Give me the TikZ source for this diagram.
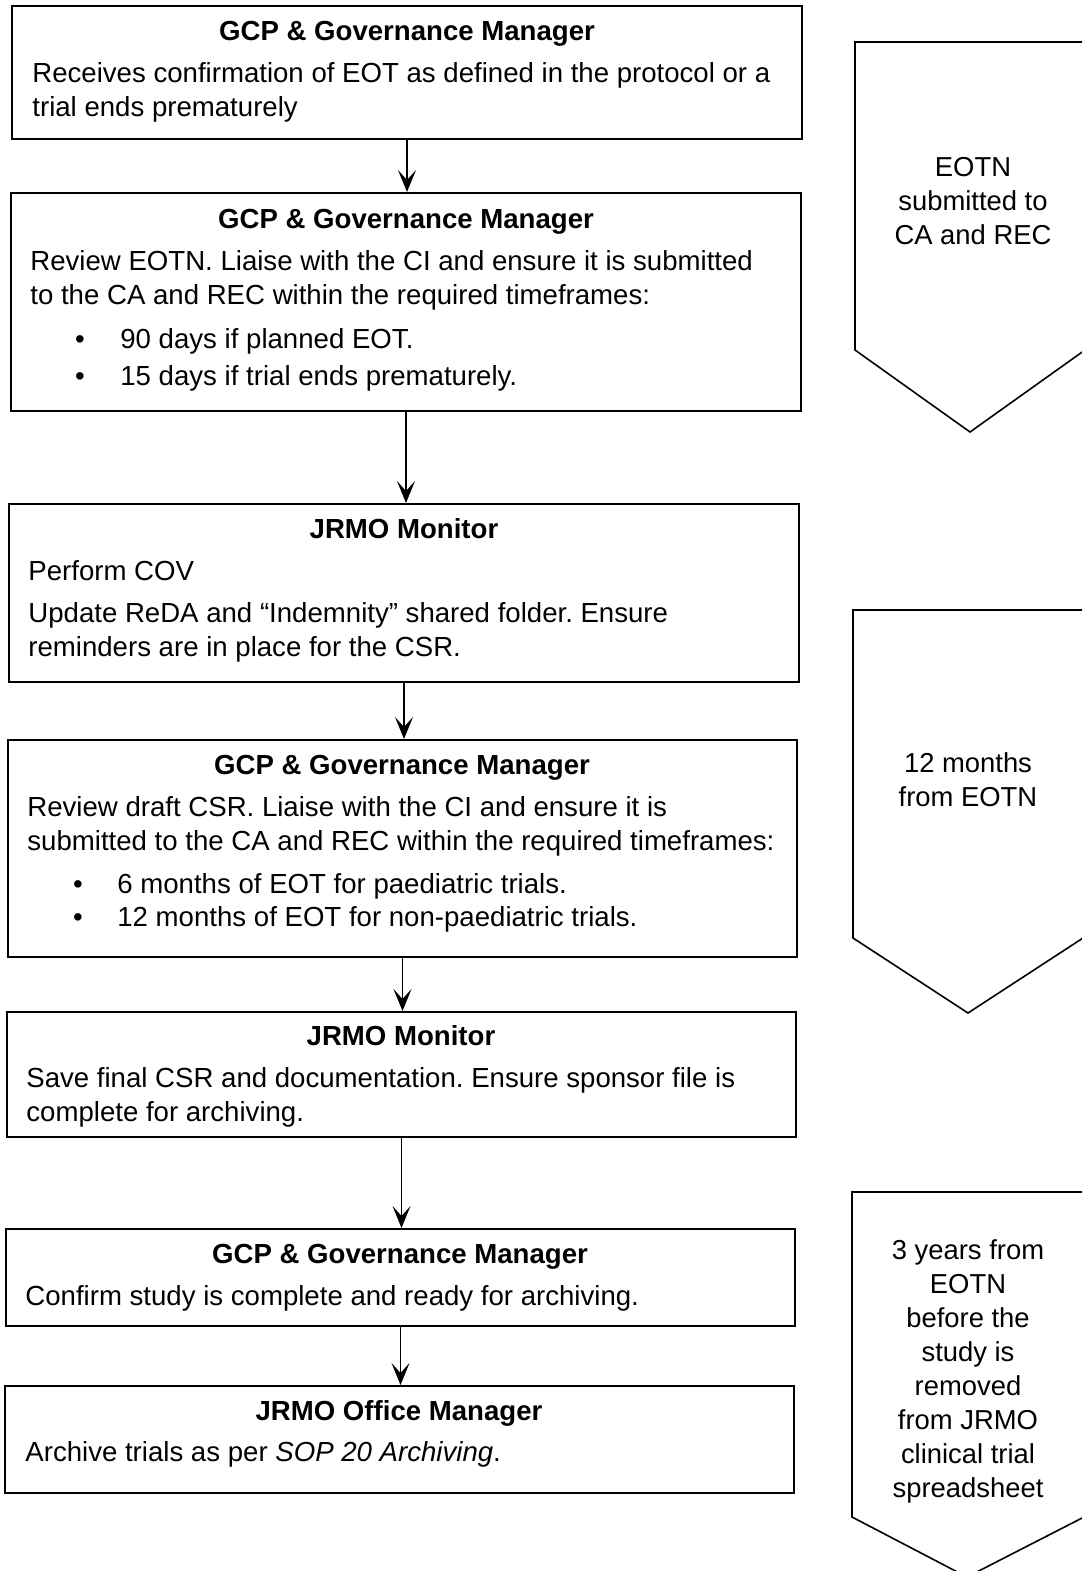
\documentclass[tikz,border=0pt]{standalone}
\usepackage{fontspec}
\setmainfont{Liberation Sans}
\usetikzlibrary{arrows.meta,fit}
\frenchspacing
\begin{document}
\begin{tikzpicture}[x=0.5pt,y=-0.5pt,
  box/.style={draw, line width=1pt, inner sep=0pt},
  hd/.style={font=\fontsize{13.8pt}{17pt}\selectfont\bfseries, anchor=base, inner sep=0pt},
  txt/.style={font=\fontsize{13.8pt}{17pt}\selectfont, anchor=base west, inner sep=0pt},
  bul/.style={font=\fontsize{13.8pt}{17pt}\selectfont, anchor=base, inner sep=0pt},
  arr/.style={line width=0.8pt, -{Stealth[length=11pt,width=9pt,inset=5pt]}},
  chev/.style={draw, line width=0.8pt},
  ctxt/.style={font=\fontsize{13.7pt}{17pt}\selectfont, align=center, inner sep=0pt}]
\useasboundingbox (0,0) rectangle (1082,1571);
\fill[white] (0,0) rectangle (1082,1571);

% boxes
\node[box, fit={(12,6) (802,139)}] (b1) {};
\node[box, fit={(11,193) (801,411)}] (b2) {};
\node[box, fit={(9,504) (799,682)}] (b3) {};
\node[box, fit={(8,740) (797,957)}] (b4) {};
\node[box, fit={(7,1012) (796,1137)}] (b5) {};
\node[box, fit={(6,1229) (795,1326)}] (b6) {};
\node[box, fit={(5,1386) (794,1493)}] (b7) {};

% box 1
\node[hd] (h1) at (407,40) {GCP \& Governance Manager};
\node[txt] (t1a) at (32,82) {Receives confirmation of EOT as defined in the protocol or a};
\node[txt] (t1b) at (32,116) {trial ends prematurely};

% box 2
\node[hd] (h2) at (406,228) {GCP \& Governance Manager};
\node[txt] (t2a) at (30,270) {Review EOTN. Liaise with the CI and ensure it is submitted};
\node[txt] (t2b) at (30,304) {to the CA and REC within the required timeframes:};
\node[bul] (p2a) at (80,348) {•};
\node[txt] (t2c) at (120,348) {90 days if planned EOT.};
\node[bul] (p2b) at (80,385) {•};
\node[txt] (t2d) at (120,385) {15 days if trial ends prematurely.};

% box 3
\node[hd] (h3) at (404,538) {JRMO Monitor};
\node[txt] (t3a) at (28,580) {Perform COV};
\node[txt] (t3b) at (28,622) {Update ReDA and “Indemnity” shared folder. Ensure};
\node[txt] (t3c) at (28,656) {reminders are in place for the CSR.};

% box 4
\node[hd] (h4) at (402,774) {GCP \& Governance Manager};
\node[txt] (t4a) at (27,816) {Review draft CSR. Liaise with the CI and ensure it is};
\node[txt] (t4b) at (27,850) {submitted to the CA and REC within the required timeframes:};
\node[bul] (p4a) at (78,893) {•};
\node[txt] (t4c) at (117,893) {6 months of EOT for paediatric trials.};
\node[bul] (p4b) at (78,926) {•};
\node[txt] (t4d) at (117,926) {12 months of EOT for non-paediatric trials.};

% box 5
\node[hd] (h5) at (401,1045) {JRMO Monitor};
\node[txt] (t5a) at (26,1087) {Save final CSR and documentation. Ensure sponsor file is};
\node[txt] (t5b) at (26,1121) {complete for archiving.};

% box 6
\node[hd] (h6) at (400,1263) {GCP \& Governance Manager};
\node[txt] (t6a) at (25,1305) {Confirm study is complete and ready for archiving.};

% box 7
\node[hd] (h7) at (399,1420) {JRMO Office Manager};
\node[txt] (t7a) at (25,1461) {Archive trials as per \textit{SOP 20 Archiving}.};

% arrows
\draw[arr] (b1.south) -- (b1.south |- b2.north);
\draw[arr] (b2.south) -- (b2.south |- b3.north);
\draw[arr] (b3.south) -- (b3.south |- b4.north);
\draw[arr] (b4.south) -- (b4.south |- b5.north);
\draw[arr] (b5.south) -- (b5.south |- b6.north);
\draw[arr] (b6.south) -- (b6.south |- b7.north);

% chevrons
\begin{scope}
\clip (0,0) rectangle (1082,1571);
\draw[chev] (855,42) -- (855,350) -- (970,432) -- (1085,350) -- (1085,42) -- cycle;
\draw[chev] (853,610) -- (853,938) -- (968,1013) -- (1083,938) -- (1083,610) -- cycle;
\draw[chev] (852,1192) -- (852,1517) -- (967,1577) -- (1084,1517) -- (1084,1192) -- cycle;
\end{scope}
\node[ctxt] (c1) at (973,201) {EOTN\\submitted to\\CA and REC};
\node[ctxt] (c2) at (968,780) {12 months\\from EOTN};
\node[ctxt] (c3) at (968,1371) {3 years from\\EOTN\\before the\\study is\\removed\\from JRMO\\clinical trial\\spreadsheet};
\end{tikzpicture}
\end{document}
